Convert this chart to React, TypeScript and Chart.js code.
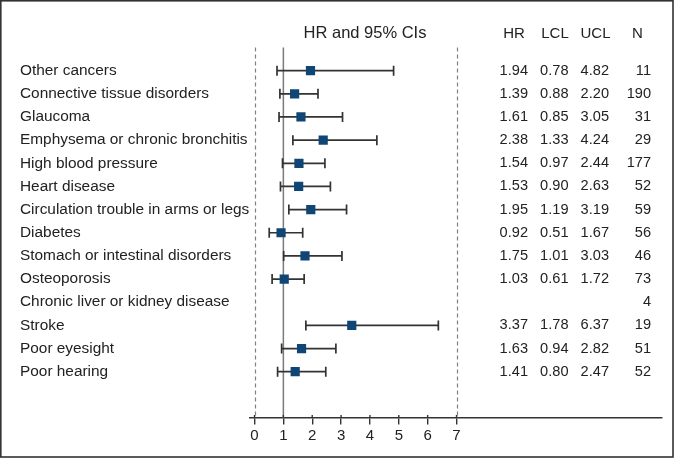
import React, { useEffect, useRef } from "react";
import { Chart, registerables } from "chart.js";

Chart.register(...registerables);

const conditions = [
  "Other cancers",
  "Connective tissue disorders",
  "Glaucoma",
  "Emphysema or chronic bronchitis",
  "High blood pressure",
  "Heart disease",
  "Circulation trouble in arms or legs",
  "Diabetes",
  "Stomach or intestinal disorders",
  "Osteoporosis",
  "Chronic liver or kidney disease",
  "Stroke",
  "Poor eyesight",
  "Poor hearing",
];
const hr: (number | null)[] = [1.94, 1.39, 1.61, 2.38, 1.54, 1.53, 1.95, 0.92, 1.75, 1.03, null, 3.37, 1.63, 1.41];
const lcl: (number | null)[] = [0.78, 0.88, 0.85, 1.33, 0.97, 0.9, 1.19, 0.51, 1.01, 0.61, null, 1.78, 0.94, 0.8];
const ucl: (number | null)[] = [4.82, 2.2, 3.05, 4.24, 2.44, 2.63, 3.19, 1.67, 3.03, 1.72, null, 6.37, 2.82, 2.47];
const counts = [11, 190, 31, 29, 177, 52, 59, 56, 46, 73, 4, 19, 51, 52];
const xTicks = [0, 1, 2, 3, 4, 5, 6, 7];
const dashedRefs = [0, 7];
const solidRef = 1;
const plotTitle = "HR and 95% CIs";
const columnHeaders = ["HR", "LCL", "UCL", "N"];

const FONT = "'Liberation Sans', Arial, Helvetica, sans-serif";
const TEXT = "#222";

const forestPlugin = {
  id: "forest",
  beforeDatasetsDraw(chart: any) {
    const { ctx, chartArea, scales } = chart;
    const xs = scales.x;
    const ys = scales.y;
    ctx.save();
    // reference lines
    ctx.strokeStyle = "#808080";
    ctx.lineWidth = 1.2;
    ctx.setLineDash([4, 3]);
    dashedRefs.forEach((v) => {
      const px = Math.round(xs.getPixelForValue(v)) + 0.5;
      ctx.beginPath();
      ctx.moveTo(px, chartArea.top);
      ctx.lineTo(px, chartArea.bottom);
      ctx.stroke();
    });
    ctx.setLineDash([]);
    ctx.strokeStyle = "#7a7a7a";
    ctx.lineWidth = 1.5;
    {
      const px = xs.getPixelForValue(solidRef);
      ctx.beginPath();
      ctx.moveTo(px, chartArea.top);
      ctx.lineTo(px, chartArea.bottom);
      ctx.stroke();
    }
    // small tick extensions above the axis
    ctx.strokeStyle = "#333";
    ctx.lineWidth = 1.4;
    xTicks.forEach((v) => {
      const px = xs.getPixelForValue(v);
      ctx.beginPath();
      ctx.moveTo(px, chartArea.bottom - 3);
      ctx.lineTo(px, chartArea.bottom);
      ctx.stroke();
    });
    // whiskers
    ctx.strokeStyle = "#333";
    ctx.lineWidth = 1.7;
    conditions.forEach((_, i) => {
      const lo = lcl[i];
      const hi = ucl[i];
      if (lo == null || hi == null) return;
      const y = ys.getPixelForValue(i);
      const x1 = xs.getPixelForValue(lo);
      const x2 = xs.getPixelForValue(hi);
      ctx.beginPath();
      ctx.moveTo(x1, y);
      ctx.lineTo(x2, y);
      ctx.moveTo(x1, y - 5);
      ctx.lineTo(x1, y + 5);
      ctx.moveTo(x2, y - 5);
      ctx.lineTo(x2, y + 5);
      ctx.stroke();
    });
    ctx.restore();
  },
  afterDraw(chart: any) {
    const { ctx, chartArea, scales, width, height } = chart;
    const ys = scales.y;
    ctx.save();
    ctx.fillStyle = TEXT;
    ctx.textBaseline = "middle";
    // category labels
    ctx.font = `15.4px ${FONT}`;
    ctx.textAlign = "left";
    conditions.forEach((c, i) => {
      ctx.fillText(c, 20, ys.getPixelForValue(i));
    });
    // table
    const rightEdges = [528, 568.5, 609, 651];
    const headerCenters = [514, 555, 595.5, 637.5];
    ctx.font = `14.6px ${FONT}`;
    ctx.textAlign = "right";
    conditions.forEach((_, i) => {
      const y = ys.getPixelForValue(i);
      const vals = [hr[i], lcl[i], ucl[i]];
      vals.forEach((v, k) => {
        if (v != null) ctx.fillText(v.toFixed(2), rightEdges[k], y);
      });
      ctx.fillText(String(counts[i]), rightEdges[3], y);
    });
    // headers
    const hy = chartArea.top - 14;
    ctx.font = `15px ${FONT}`;
    ctx.textAlign = "center";
    columnHeaders.forEach((h, k) => ctx.fillText(h, headerCenters[k], hy));
    ctx.font = `16.5px ${FONT}`;
    ctx.fillText(plotTitle, 365, hy);
    // frame
    ctx.strokeStyle = "#333";
    ctx.lineWidth = 1.6;
    ctx.strokeRect(0.8, 0.8, width - 2.8, height - 2.8);
    ctx.restore();
  },
};

export default function App() {
  const ref = useRef<HTMLCanvasElement | null>(null);
  useEffect(() => {
    if (!ref.current) return;
    const points = hr
      .map((v, i) => (v == null ? null : { x: v, y: i }))
      .filter((p) => p != null) as { x: number; y: number }[];
    const chart = new Chart(ref.current, {
      type: "scatter",
      data: {
        datasets: [
          {
            data: points,
            pointStyle: "rect",
            pointRadius: 6.5,
            pointBackgroundColor: "#0f4676",
            pointBorderColor: "#0f4676",
            pointBorderWidth: 0,
          },
        ],
      },
      options: {
        responsive: false,
        animation: false,
        devicePixelRatio: 1,
        events: [],
        layout: { padding: { left: 250, right: 13, top: 47.5, bottom: 0 } },
        plugins: { legend: { display: false }, tooltip: { enabled: false } },
        scales: {
          x: {
            type: "linear",
            min: -0.156,
            max: 14.12,
            afterBuildTicks: (s: any) => {
              s.ticks = xTicks.map((v) => ({ value: v }));
            },
            afterFit: (s: any) => {
              s.height = 41;
            },
            grid: {
              display: true,
              drawOnChartArea: false,
              drawTicks: true,
              tickLength: 6.5,
              color: "#333",
              lineWidth: 1.4,
            },
            border: { display: true, color: "#333", width: 1.6 },
            ticks: {
              font: { family: FONT, size: 15 },
              color: TEXT,
              padding: 2,
              maxRotation: 0,
              autoSkip: false,
            },
          },
          y: {
            type: "linear",
            min: -1,
            max: 15,
            reverse: true,
            display: false,
          },
        },
      },
      plugins: [forestPlugin],
    });
    return () => chart.destroy();
  }, []);
  return (
    <div>
      <canvas
        ref={ref}
        width={675}
        height={459}
        style={{ position: "fixed", left: 0, top: 0, width: 675, height: 459 }}
      />
    </div>
  );
}
